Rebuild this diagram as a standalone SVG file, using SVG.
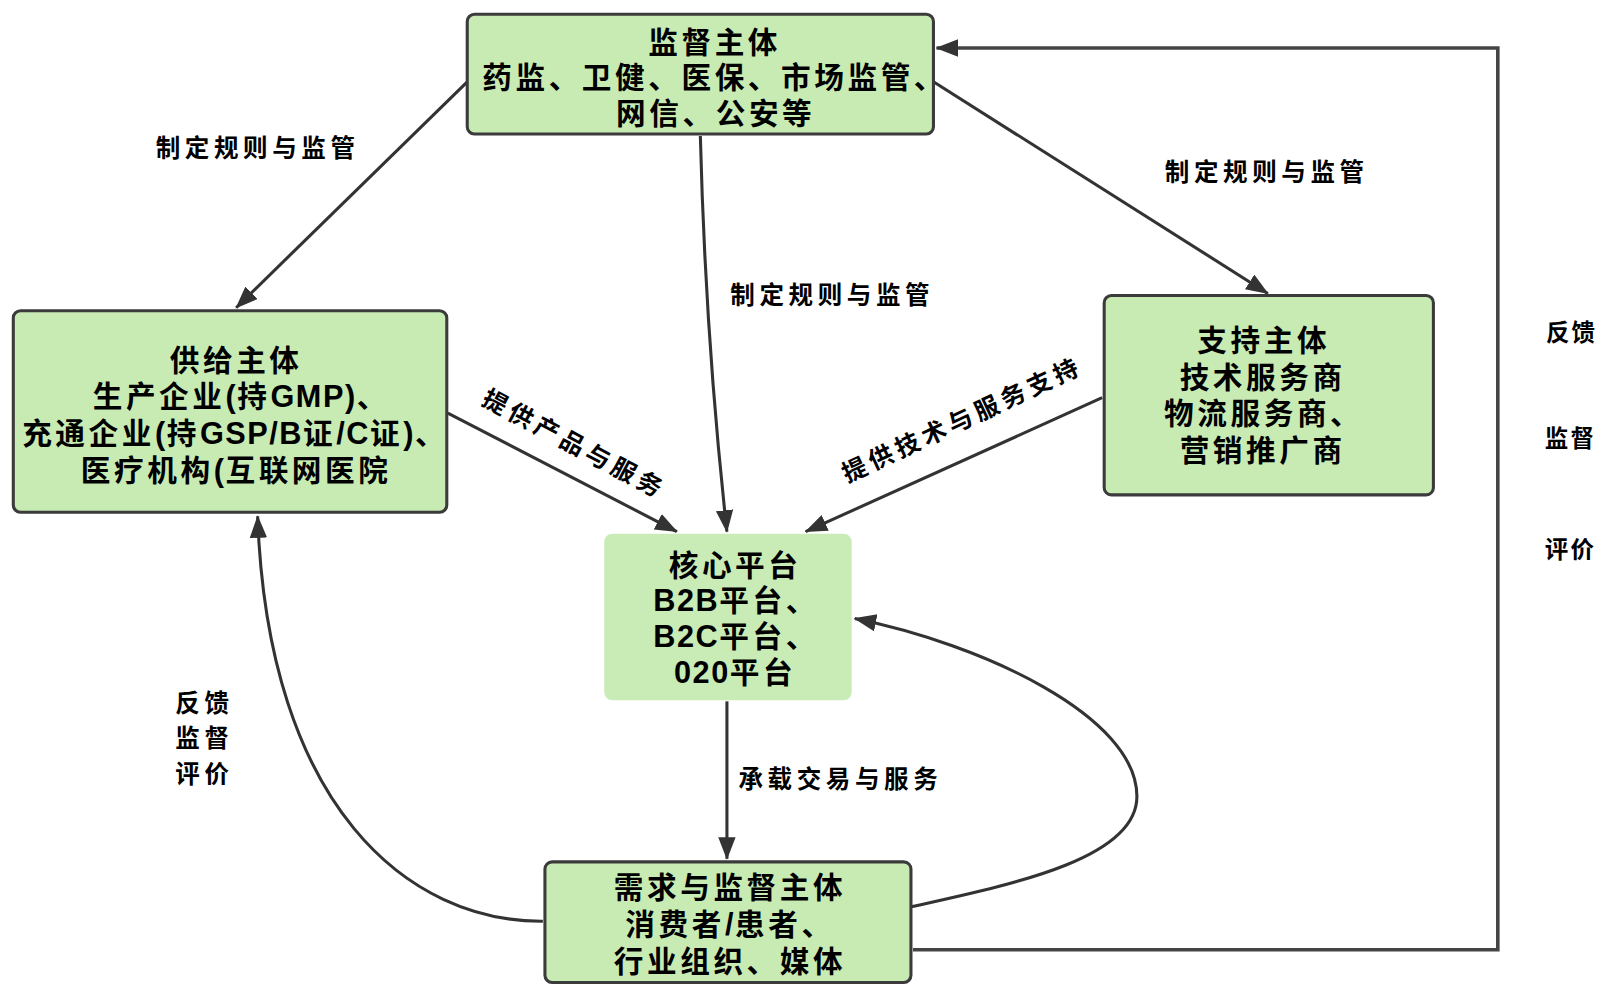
<svg xmlns="http://www.w3.org/2000/svg" width="1600" height="988" viewBox="0 0 1600 988">
<defs>
<style>
.box{fill:#c8ebb4;stroke:#3b3b3b;stroke-width:3}
.core{fill:#c9ecb6}
.t{font-family:"Liberation Sans","Noto Sans CJK SC",sans-serif;font-weight:bold;font-size:29px;letter-spacing:3.5px;fill:#000;text-anchor:middle}
.t tspan.la{font-size:30px;letter-spacing:1.5px}
.l{font-family:"Liberation Sans","Noto Sans CJK SC",sans-serif;font-weight:bold;font-size:24px;letter-spacing:4.5px;fill:#000;text-anchor:middle}
.r{font-family:"Liberation Sans","Noto Sans CJK SC",sans-serif;font-weight:bold;font-size:23px;letter-spacing:2px;fill:#000;text-anchor:middle}
.c{fill:none;stroke:#333;stroke-width:3}
.fb{fill:none;stroke:#444;stroke-width:3.5}
</style>
<marker id="ah" markerUnits="userSpaceOnUse" markerWidth="24" markerHeight="18" refX="21" refY="8.5" orient="auto">
<path d="M0,0 L22,8.5 L0,17 z" fill="#333"/>
</marker>
</defs>
<rect width="1600" height="988" fill="#fff"/>
<g transform="scale(1.0224)">

<g id="connectors">
<path class="c" d="M457,80 L231,301" marker-end="url(#ah)"/>
<path class="c" d="M685,133 Q690,330 711,520" marker-end="url(#ah)"/>
<path class="c" d="M913,80 L1240,287" marker-end="url(#ah)"/>
<path class="c" d="M438,404 L662,520" marker-end="url(#ah)"/>
<path class="c" d="M1078,389 L788,520" marker-end="url(#ah)"/>
<path class="c" d="M711,686 L711,840" marker-end="url(#ah)"/>
<path class="c" d="M891,887 C990,865 1112,840 1112,779 C1112,700 960,630 836,605" marker-end="url(#ah)"/>
<path class="c" d="M531,901 C400,902 262,790 252,505" marker-end="url(#ah)"/>
<path class="fb" d="M893,929 L1465,929 L1465,47 L916,47" marker-end="url(#ah)"/>
<text class="l" x="252" y="154">制定规则与监管</text>
<text class="l" x="814" y="297">制定规则与监管</text>
<text class="l" x="1239" y="177">制定规则与监管</text>
<text class="l" x="822" y="771">承载交易与服务</text>
<text class="l" transform="translate(562,434) rotate(28)" x="0" y="9">提供产品与服务</text>
<text class="l" transform="translate(941,410) rotate(-25)" x="0" y="9">提供技术与服务支持</text>
<text class="l" x="200" y="696">反馈</text>
<text class="l" x="200" y="731">监督</text>
<text class="l" x="200" y="766">评价</text>
<text class="r" x="1537" y="334">反馈</text>
<text class="r" x="1536" y="437">监督</text>
<text class="r" x="1536" y="546">评价</text>
</g>

<g id="n-supervise">
<rect class="box" x="457" y="14" width="456" height="117" rx="7"/>
<text class="t" x="699" y="51.5">监督主体</text>
<text class="t" x="699" y="86.5">药监、卫健、医保、市场监管、</text>
<text class="t" x="700" y="121.5">网信、公安等</text>
</g>

<g id="n-supply">
<rect class="box" x="13" y="304" width="424" height="197" rx="7"/>
<text class="t" x="231" y="362.5">供给主体</text>
<text class="t" x="236" y="398.5">生产企业<tspan class="la">(</tspan>持<tspan class="la">GMP)</tspan>、</text>
<text class="t" x="230" y="434.5">充通企业<tspan class="la">(</tspan>持<tspan class="la">GSP/B</tspan>证<tspan class="la">/C</tspan>证<tspan class="la">)</tspan>、</text>
<text class="t" x="231" y="470.5">医疗机构<tspan class="la">(</tspan>互联网医院</text>
</g>

<g id="n-support">
<rect class="box" x="1080" y="289" width="322" height="195" rx="7"/>
<text class="t" x="1236" y="343.5">支持主体</text>
<text class="t" x="1235" y="379.5">技术服务商</text>
<text class="t" x="1236" y="414.5">物流服务商、</text>
<text class="t" x="1235" y="450.5">营销推广商</text>
</g>

<g id="n-core">
<rect class="core" x="591" y="522" width="242" height="163" rx="8"/>
<text class="t" x="719" y="563">核心平台</text>
<text class="t" x="720" y="598"><tspan class="la">B2B</tspan>平台、</text>
<text class="t" x="720" y="633"><tspan class="la">B2C</tspan>平台、</text>
<text class="t" x="719" y="668"><tspan class="la">020</tspan>平台</text>
</g>

<g id="n-demand">
<rect class="box" x="533" y="843" width="358" height="118" rx="7"/>
<text class="t" x="714" y="878.5">需求与监督主体</text>
<text class="t" x="714" y="914.5">消费者<tspan class="la">/</tspan>患者、</text>
<text class="t" x="714" y="950.5">行业组织、媒体</text>
</g>
</g>
</svg>
